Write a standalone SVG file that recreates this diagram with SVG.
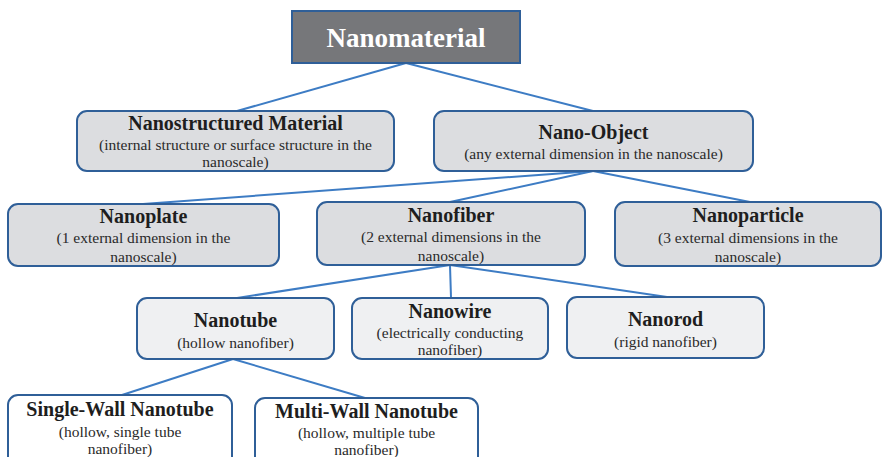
<svg xmlns="http://www.w3.org/2000/svg" width="883" height="457" viewBox="0 0 883 457">
<style>
.box{stroke:#2f5f98;stroke-width:2}
.l2{fill:#dcdde0}
.l3{fill:#eff0f2}
.l4{fill:#ffffff}
text{font-family:"Liberation Serif","Tinos","Times New Roman","DejaVu Serif",serif}
.t{font-weight:bold;font-size:20px;fill:#1e1e1e;text-anchor:middle}
.s{font-size:15.5px;fill:#2a2a2a;text-anchor:middle}
.h{font-weight:bold;font-size:27px;fill:#ffffff;text-anchor:middle}
.c{stroke:#3d7cc4;stroke-width:2;fill:none}
</style>
<rect width="883" height="457" fill="#ffffff"/>
<g id="connectors">
<line class="c" x1="406" y1="63" x2="237" y2="111"/>
<line class="c" x1="406" y1="63" x2="593" y2="111"/>
<line class="c" x1="593" y1="171" x2="143" y2="204"/>
<line class="c" x1="593" y1="171" x2="450" y2="202"/>
<line class="c" x1="593" y1="171" x2="750" y2="202"/>
<line class="c" x1="450" y1="265" x2="237" y2="298"/>
<line class="c" x1="450" y1="265" x2="451" y2="298"/>
<line class="c" x1="450" y1="265" x2="667" y2="297"/>
<line class="c" x1="233" y1="359" x2="122" y2="395"/>
<line class="c" x1="233" y1="359" x2="365" y2="398"/>
</g>
<g id="nanomaterial">
<rect class="box" x="292" y="11" width="228" height="52" fill="#76777a"/>
<text class="h" x="406" y="47">Nanomaterial</text>
</g>
<g id="nanostructured">
<rect class="box l2" x="77" y="111" width="317" height="60" rx="10"/>
<text class="t" x="235.5" y="130">Nanostructured Material</text>
<text class="s" x="235.5" y="150">(internal structure or surface structure in the</text>
<text class="s" x="235.5" y="167">nanoscale)</text>
</g>
<g id="nano-object">
<rect class="box l2" x="434" y="111" width="319" height="60" rx="10"/>
<text class="t" x="593.5" y="139">Nano-Object</text>
<text class="s" x="593.5" y="159">(any external dimension in the nanoscale)</text>
</g>
<g id="nanoplate">
<rect class="box l2" x="8" y="204" width="271" height="62" rx="10"/>
<text class="t" x="143.5" y="223">Nanoplate</text>
<text class="s" x="143.5" y="243">(1 external dimension in the</text>
<text class="s" x="143.5" y="262">nanoscale)</text>
</g>
<g id="nanofiber">
<rect class="box l2" x="317" y="202" width="268" height="63" rx="10"/>
<text class="t" x="451" y="222">Nanofiber</text>
<text class="s" x="451" y="242">(2 external dimensions in the</text>
<text class="s" x="451" y="261">nanoscale)</text>
</g>
<g id="nanoparticle">
<rect class="box l2" x="615" y="202" width="266" height="64" rx="10"/>
<text class="t" x="748" y="222">Nanoparticle</text>
<text class="s" x="748" y="243">(3 external dimensions in the</text>
<text class="s" x="748" y="262">nanoscale)</text>
</g>
<g id="nanotube">
<rect class="box l3" x="137" y="298" width="197" height="61" rx="10"/>
<text class="t" x="235.5" y="327">Nanotube</text>
<text class="s" x="235.5" y="348">(hollow nanofiber)</text>
</g>
<g id="nanowire">
<rect class="box l3" x="352" y="298" width="196" height="61" rx="10"/>
<text class="t" x="450" y="318">Nanowire</text>
<text class="s" x="450" y="338">(electrically conducting</text>
<text class="s" x="450" y="355">nanofiber)</text>
</g>
<g id="nanorod">
<rect class="box l3" x="567" y="297" width="197" height="61" rx="10"/>
<text class="t" x="665.5" y="326">Nanorod</text>
<text class="s" x="665.5" y="347">(rigid nanofiber)</text>
</g>
<g id="single-wall">
<rect class="box l4" x="8" y="395" width="224" height="80" rx="10"/>
<text class="t" x="120" y="416">Single-Wall Nanotube</text>
<text class="s" x="120" y="437">(hollow, single tube</text>
<text class="s" x="120" y="454">nanofiber)</text>
</g>
<g id="multi-wall">
<rect class="box l4" x="255" y="398" width="223" height="80" rx="10"/>
<text class="t" x="366.5" y="418">Multi-Wall Nanotube</text>
<text class="s" x="366.5" y="438">(hollow, multiple tube</text>
<text class="s" x="366.5" y="455">nanofiber)</text>
</g>
</svg>
